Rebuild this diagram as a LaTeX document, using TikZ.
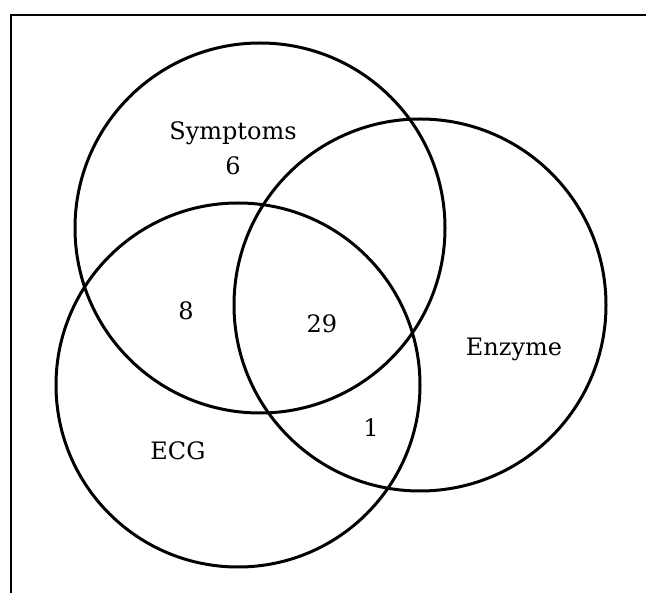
\documentclass[tikz,border=0pt]{standalone}
\usepackage{fontspec}
\setmainfont{DejaVu Serif}
\begin{document}
\begin{tikzpicture}[x=1pt,y=-1pt,
  setcirc/.style={draw, circle, line width=3pt, minimum size=#1, inner sep=0pt},
  lbl/.style={font=\fontsize{24}{29}\selectfont, inner sep=0pt, anchor=base},
  frameline/.style={line width=2.4pt}]
  \useasboundingbox (0,0) rectangle (646,593);
  % open frame: top edge and left edge only
  \coordinate (tr) at (646,15);
  \coordinate (tl) at (11,15);
  \coordinate (bl) at (11,593);
  \draw[frameline] (tr) -- (tl) -- (bl);
  % the three sets
  \node[setcirc=370pt] (sym) at (260,228) {};
  \node[setcirc=364pt] (ecg) at (238,385) {};
  \node[setcirc=372pt] (enz) at (420,305) {};
  % set names
  \node[lbl] (symname) at (233,140) {Symptoms};
  \node[lbl] (enzname) at (514,356) {Enzyme};
  \node[lbl] (ecgname) at (178,460) {ECG};
  % region counts
  \node[lbl] (nsym) at (233,175) {6};
  \node[lbl] (nsymecg) at (186,320) {8};
  \node[lbl] (nall) at (322,333) {29};
  \node[lbl] (necgenz) at (371,437) {1};
\end{tikzpicture}
\end{document}
